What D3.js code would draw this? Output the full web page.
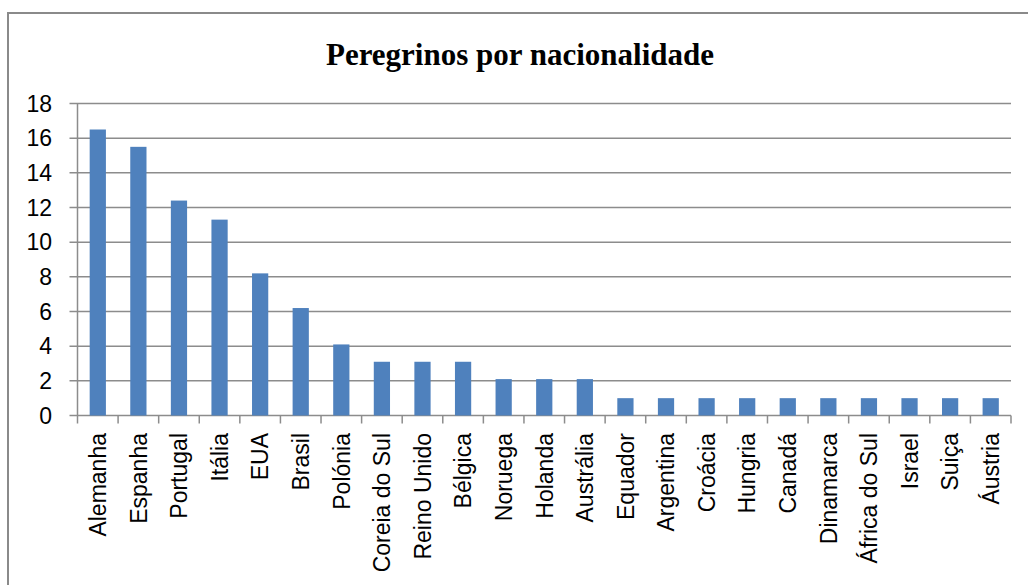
<!DOCTYPE html>
<html>
<head>
<meta charset="utf-8">
<script src="https://cdn.jsdelivr.net/npm/d3@7"></script>
<style>
  body { margin: 0; background: #fff; }
  svg { display: block; }
</style>
</head>
<body>
<div id="chart"></div>
<script>
// data
const countries = ["Alemanha", "Espanha", "Portugal", "Itália", "EUA", "Brasil", "Polónia",
  "Coreia do Sul", "Reino Unido", "Bélgica", "Noruega", "Holanda", "Austrália", "Equador",
  "Argentina", "Croácia", "Hungria", "Canadá", "Dinamarca", "África do Sul", "Israel", "Suiça", "Áustria"];
const pilgrims = [16.5, 15.5, 12.4, 11.3, 8.2, 6.2, 4.1, 3.1, 3.1, 3.1, 2.1, 2.1, 2.1,
  1, 1, 1, 1, 1, 1, 1, 1, 1, 1];
const yTicks = [0, 2, 4, 6, 8, 10, 12, 14, 16, 18];
const title = "Peregrinos por nacionalidade";

const width = 1028, height = 585;
const plotLeft = 77.5, plotRight = 1011, plotTop = 103.5, plotBottom = 415.5;
const labelFont = "'Liberation Sans', Arial, sans-serif";

const svg = d3.select("#chart").append("svg")
  .attr("width", width)
  .attr("height", height);

// chart frame (only top and left edges are inside the picture)
svg.append("rect")
  .attr("x", 8).attr("y", 13)
  .attr("width", 1040).attr("height", 600)
  .attr("fill", "none")
  .attr("stroke", "#8a8a8a")
  .attr("stroke-width", 2);

svg.append("text")
  .attr("x", 520)
  .attr("y", 65)
  .attr("text-anchor", "middle")
  .style("font-family", "'Liberation Serif', 'Times New Roman', serif")
  .style("font-weight", "bold")
  .style("font-size", "31px")
  .text(title);

const y = d3.scaleLinear().domain([0, 18]).range([plotBottom, plotTop]);
// category cells for ticks, narrower band for the bars (gap width 150%)
const cell = d3.scaleBand().domain(countries).range([plotLeft, plotRight]).padding(0);
const x = d3.scaleBand().domain(countries).range([plotLeft, plotRight])
  .paddingInner(0.6).paddingOuter(0.3);

// gridlines
svg.append("g")
  .selectAll("line")
  .data(yTicks)
  .join("line")
  .attr("x1", plotLeft - 8)
  .attr("x2", plotRight)
  .attr("y1", d => y(d))
  .attr("y2", d => y(d))
  .attr("stroke", "#8c8c8c")
  .attr("stroke-width", 1.5);

// y axis line
svg.append("line")
  .attr("x1", plotLeft).attr("x2", plotLeft)
  .attr("y1", plotTop).attr("y2", plotBottom)
  .attr("stroke", "#8c8c8c")
  .attr("stroke-width", 1.5);

// y tick labels
svg.append("g")
  .selectAll("text")
  .data(yTicks)
  .join("text")
  .attr("x", 52)
  .attr("y", d => y(d))
  .attr("dy", "0.36em")
  .attr("text-anchor", "end")
  .style("font-family", labelFont)
  .style("font-size", "23px")
  .text(d => d);

// bars
svg.append("g")
  .selectAll("rect")
  .data(pilgrims)
  .join("rect")
  .attr("x", (d, i) => x(countries[i]))
  .attr("y", d => y(d))
  .attr("width", x.bandwidth())
  .attr("height", d => y(0) - y(d))
  .attr("fill", "#4f81bd");

// x axis ticks at category boundaries
const bounds = countries.map(c => cell(c)).concat([plotRight]);
svg.append("g")
  .selectAll("line")
  .data(bounds)
  .join("line")
  .attr("x1", d => d).attr("x2", d => d)
  .attr("y1", plotBottom).attr("y2", plotBottom + 8)
  .attr("stroke", "#8c8c8c")
  .attr("stroke-width", 1.5);

// x tick labels, rotated
svg.append("g")
  .selectAll("text")
  .data(countries)
  .join("text")
  .attr("transform", d => `translate(${cell(d) + cell.bandwidth() / 2},433) rotate(-90)`)
  .attr("dy", "0.36em")
  .attr("text-anchor", "end")
  .style("font-family", labelFont)
  .style("font-size", "23px")
  .text(d => d);
</script>
</body>
</html>
